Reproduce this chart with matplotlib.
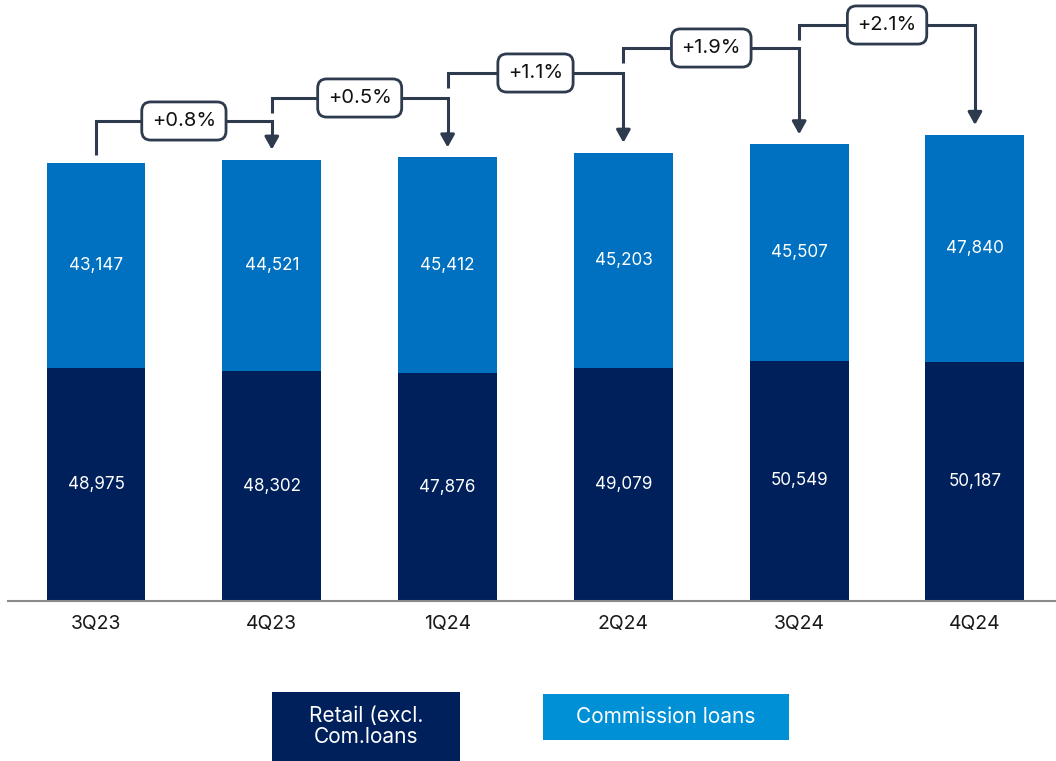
import matplotlib
matplotlib.use("Agg")
import matplotlib.pyplot as plt
from matplotlib.patches import Rectangle

plt.rcParams['font.family'] = ['Inter', 'DejaVu Sans']

# Loan balances by quarter
quarters = ["3Q23", "4Q23", "1Q24", "2Q24", "3Q24", "4Q24"]
retail = [48975, 48302, 47876, 49079, 50549, 50187]
commission = [43147, 44521, 45412, 45203, 45507, 47840]

NAVY = "#00205b"
BLUE = "#0070c0"
LIGHT = "#0090d6"
LINE = "#2e3a4e"

W, H = 1056, 761
fig = plt.figure(figsize=(W / 100, H / 100), dpi=100)
ax = fig.add_axes([8 / W, 160 / H, 1048 / W, 601 / H])

YMAX = 126400
ax.set_ylim(0, YMAX)
ax.set_xlim(-0.5006, 5.461)

x = list(range(len(quarters)))
totals = [r + c for r, c in zip(retail, commission)]
bw = 0.563
ax.bar(x, retail, width=bw, color=NAVY, zorder=2)
ax.bar(x, commission, bottom=retail, width=bw, color=BLUE, zorder=2)

for i in x:
    ax.text(i, retail[i] / 2, f"{retail[i]:,}", ha="center", va="center",
            color="white", fontsize=12.3)
    ax.text(i, retail[i] + commission[i] / 2, f"{commission[i]:,}",
            ha="center", va="center", color="white", fontsize=12.3)

for s in ["top", "right", "left"]:
    ax.spines[s].set_visible(False)
ax.spines["bottom"].set_color("#8a8a8a")
ax.spines["bottom"].set_linewidth(1.5)
ax.set_yticks([])
ax.set_xticks(x)
ax.set_xticklabels(quarters, fontsize=14, color="#1a1a1a")
ax.tick_params(axis="x", length=0, pad=10)


def py(p):
    # pixel row -> data value on this axis
    return (601 - p) * YMAX / 601


px_per_unit = 601 / YMAX
levels_px = [121, 98, 73, 48, 25]
stub_px = [155, 113, 88, 63, 40]

for k in range(len(quarters) - 1):
    x0, x1 = k, k + 1
    lvl = py(levels_px[k])
    start = py(stub_px[k])
    tip = totals[x1] + 10 / px_per_unit
    ax.plot([x0, x0, x1, x1], [start, lvl, lvl, tip + 12 / px_per_unit],
            color=LINE, lw=2.2, solid_joinstyle="miter", solid_capstyle="butt",
            zorder=3, clip_on=False)
    ax.annotate("", xy=(x1, tip), xytext=(x1, tip + 14 / px_per_unit),
                arrowprops=dict(arrowstyle="-|>,head_length=0.75,head_width=0.42",
                                color=LINE, lw=2.2, shrinkA=0, shrinkB=0),
                zorder=3, annotation_clip=False)
    pct = (totals[x1] / totals[x0] - 1) * 100
    ax.text((x0 + x1) / 2, lvl, f"+{pct:.1f}%", ha="center", va="center",
            fontsize=14.5, color="#111111", zorder=4,
            bbox=dict(boxstyle="round,pad=0.5,rounding_size=0.45",
                      facecolor="white", edgecolor=LINE, linewidth=2.0))

# Legend drawn as labelled boxes
def fig_box(x0, y0, x1, y1, color, label):
    fig.patches.append(Rectangle((x0 / W, 1 - y1 / H), (x1 - x0) / W, (y1 - y0) / H,
                                 transform=fig.transFigure, facecolor=color,
                                 edgecolor="none"))
    fig.text((x0 + x1) / 2 / W, 1 - (y0 + y1) / 2 / H, label, ha="center",
             va="center", color="white", fontsize=15, linespacing=1.1)

fig_box(272, 692, 460, 761, NAVY, "Retail (excl.\nCom.loans")
fig_box(543, 694, 789, 740, LIGHT, "Commission loans")

fig.savefig("out.png", dpi=100)
